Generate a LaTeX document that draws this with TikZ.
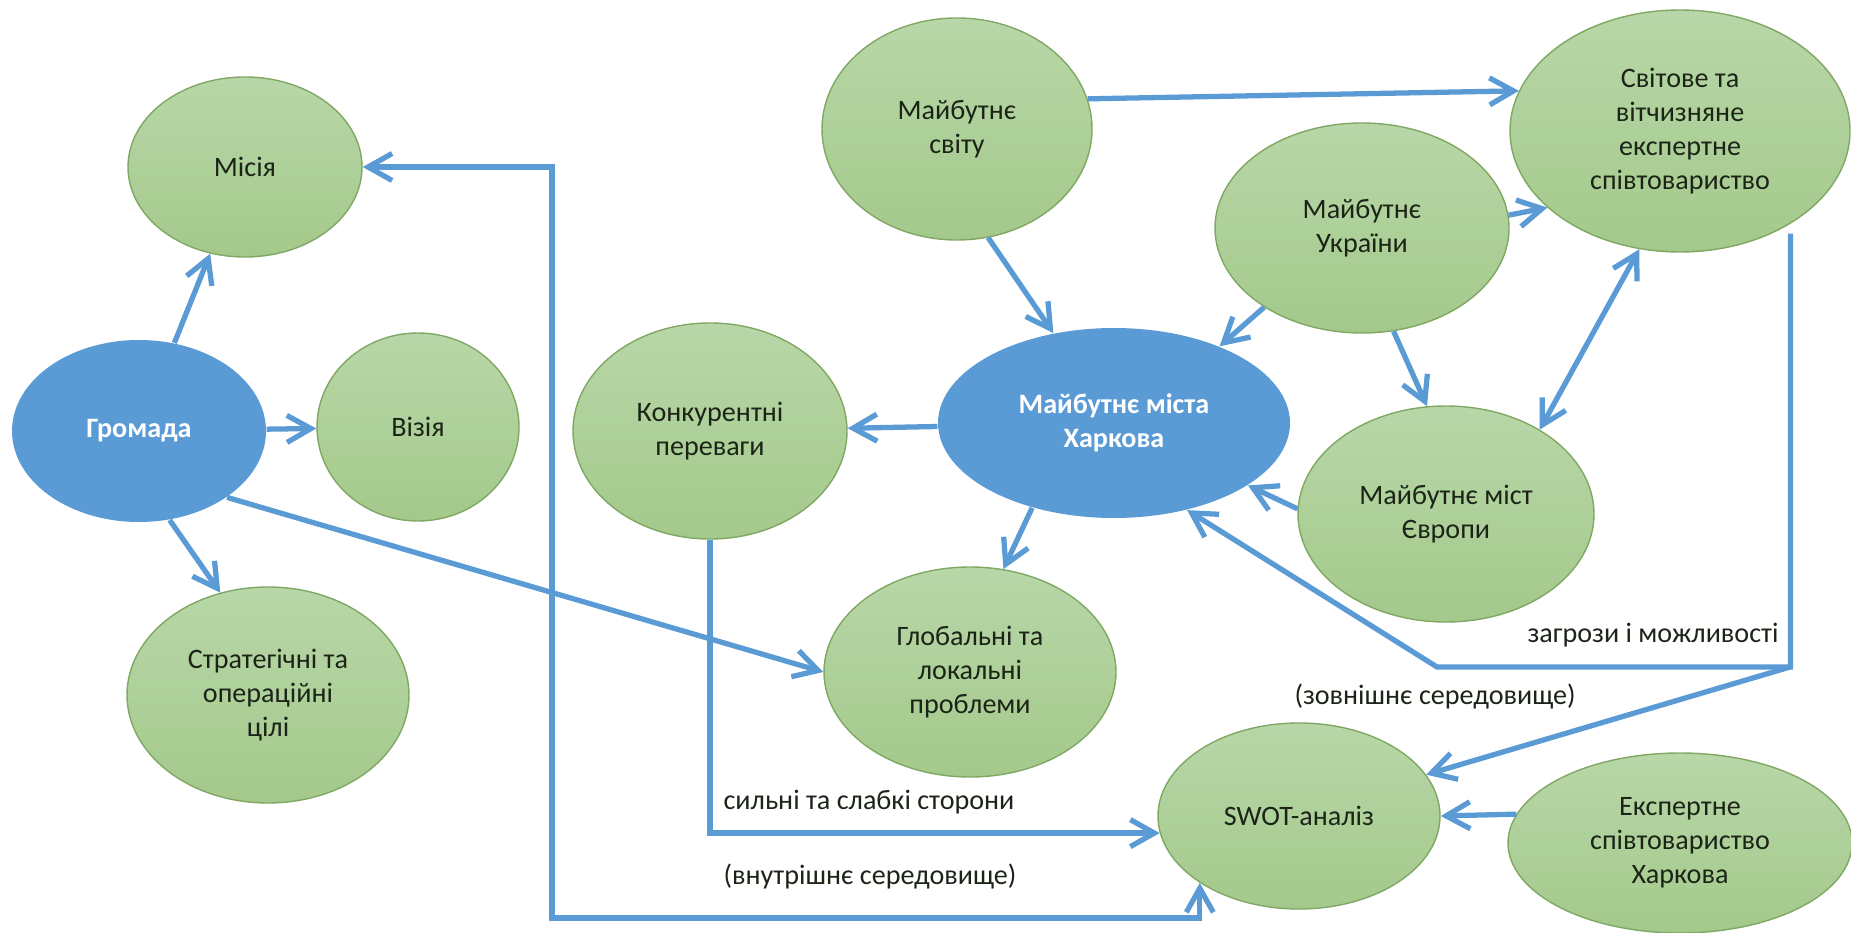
\documentclass[tikz,border=0pt]{standalone}
\usepackage{fontspec}
\setmainfont{Carlito}
\usetikzlibrary{shapes.geometric, arrows.meta}
\definecolor{lineblue}{RGB}{91,155,213}
\definecolor{nodeblue}{RGB}{91,155,213}
\definecolor{greentop}{RGB}{184,215,168}
\definecolor{greenbot}{RGB}{164,201,139}
\definecolor{greenline}{RGB}{128,168,100}
\definecolor{textdark}{RGB}{28,36,24}
\tikzstyle{goal} = [ellipse, inner sep=0pt, draw=greenline, line width=0.4pt, top color=greentop, bottom color=greenbot, text=textdark, align=center, font=\fontsize{8}{9.7}\selectfont]
\tikzstyle{core} = [ellipse, inner sep=0pt, fill=nodeblue, text=white, align=center, font=\fontsize{8}{9.7}\selectfont\bfseries]
\tikzstyle{note} = [text=textdark, font=\fontsize{8}{9.7}\selectfont]
\tikzstyle{arrow} = [line width=1.5pt, draw=lineblue, -{Straight Barb[length=2.4mm,width=2.7mm]}]
\tikzstyle{arrowboth} = [line width=1.5pt, draw=lineblue, {Straight Barb[length=2.4mm,width=2.7mm]}-{Straight Barb[length=2.4mm,width=2.7mm]}]

\begin{document}
\begin{tikzpicture}
\useasboundingbox (0,0) rectangle (18.51,-9.33);
\node (misia) [goal, minimum width=2.34cm, minimum height=1.80cm] at (2.45,-1.67) {Місія};
\node (gromada) [core, minimum width=2.54cm, minimum height=1.82cm] at (1.39,-4.31) {Громада};
\node (vizia) [goal, minimum width=2.02cm, minimum height=1.88cm] at (4.18,-4.27) {Візія};
\node (strat) [goal, minimum width=2.82cm, minimum height=2.16cm] at (2.68,-6.95) {Стратегічні та\\операційні\\цілі};
\node (svitu) [goal, minimum width=2.70cm, minimum height=2.22cm] at (9.57,-1.29) {Майбутнє\\світу};
\node (svitove) [goal, minimum width=3.40cm, minimum height=2.42cm] at (16.80,-1.31) {Світове та\\вітчизняне\\експертне\\співтовариство};
\node (ukraine) [goal, minimum width=2.94cm, minimum height=2.10cm] at (13.62,-2.28) {Майбутнє\\України};
\node (kharkiv) [core, minimum width=3.52cm, minimum height=1.90cm] at (11.14,-4.23) {Майбутнє міста\\Харкова};
\node (konk) [goal, minimum width=2.74cm, minimum height=2.16cm] at (7.10,-4.31) {Конкурентні\\переваги};
\node (evropy) [goal, minimum width=2.96cm, minimum height=2.16cm] at (14.46,-5.14) {Майбутнє міст\\Європи};
\node (glob) [goal, minimum width=2.92cm, minimum height=2.10cm] at (9.70,-6.72) {Глобальні та\\локальні\\проблеми};
\node (swot) [goal, minimum width=2.82cm, minimum height=1.86cm] at (12.99,-8.16) {SWOT-аналіз};
\node (ekspert) [goal, minimum width=3.44cm, minimum height=1.80cm] at (16.80,-8.43) {Експертне\\співтовариство\\Харкова};
\node (zagrozy) [note] at (16.53,-6.35) {загрози і можливості};
\node (zovn) [note] at (14.35,-6.97) {(зовнішнє середовище)};
\node (sylni) [note] at (8.69,-8.02) {сильні та слабкі сторони};
\node (vnutr) [note] at (8.70,-8.77) {(внутрішнє середовище)};
\coordinate (bottomturn) at (5.52,-9.18);
\coordinate (zovnL) at (14.37,-6.67);
\coordinate (zovnR) at (17.90,-6.67);
\draw [arrow] (gromada) -- (misia);
\draw [arrow] (gromada) -- (vizia);
\draw [arrow] (gromada.-71) -- (strat.115);
\draw [arrow] (gromada.-37) -- (glob.west);
\draw [arrowboth] (misia.east) -| (bottomturn) -| (swot.214);
\draw [arrow] (konk.south) |- (swot.187);
\draw [arrow] (kharkiv) -- (konk);
\draw [arrow] (svitu.-74) -- (kharkiv.124);
\draw [arrow] (svitu.13) -- (svitove.166);
\draw [arrow] (ukraine.5) -- (svitove.210);
\draw [arrow] (ukraine.219) -- (kharkiv.36);
\draw [arrow] (ukraine.-73) -- (evropy.100);
\draw [arrowboth] (evropy.42) -- (svitove.251);
\draw [arrow] (evropy.178) -- (kharkiv.-25);
\draw [arrow] (kharkiv.226) -- (glob.72);
\draw [arrow, shorten <=1mm] (svitove.-40) |- (zovnL) -- (kharkiv.-50);
\draw [arrow] (zovnR) -- (swot.18);
\draw [arrow] (ekspert.170) -- (swot.east);
\end{tikzpicture}
\end{document}
